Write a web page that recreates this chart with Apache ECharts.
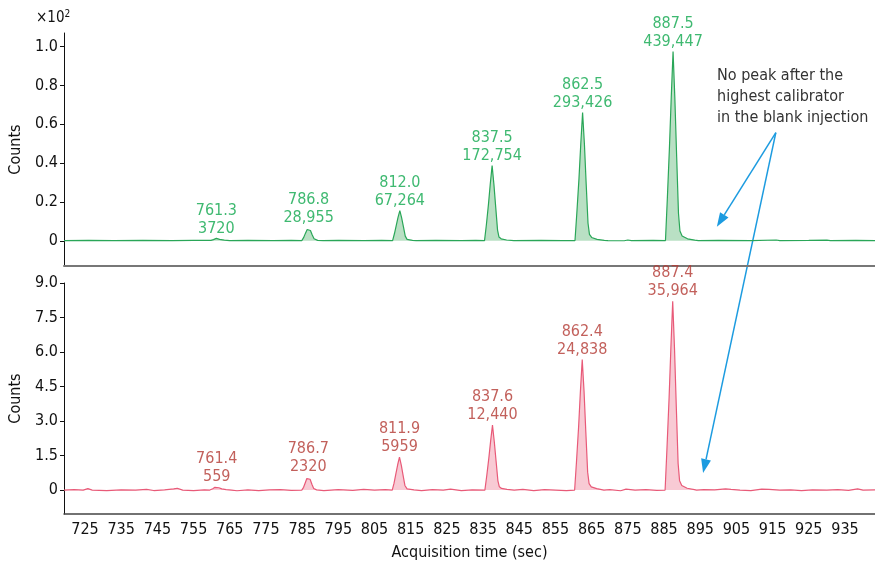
<!DOCTYPE html>
<html>
<head>
<meta charset="utf-8">
<script src="https://cdn.jsdelivr.net/npm/echarts@6/dist/echarts.min.js"></script>
<style>
html, body { margin: 0; padding: 0; background: #fff; }
#main { width: 875px; height: 565px; }
</style>
</head>
<body>
<div id="main"></div>
<script>
var FONT = "'DejaVu Sans Condensed', 'DejaVu Sans', sans-serif";

// tick labels
var timeTicks = [725, 735, 745, 755, 765, 775, 785, 795, 805, 815, 825, 835, 845, 855, 865, 875, 885, 895, 905, 915, 925, 935];
var topTicks = [0, 0.2, 0.4, 0.6, 0.8, 1.0];
var bottomTicks = [0, 1.5, 3.0, 4.5, 6.0, 7.5, 9.0];

// peak annotations (retention time, apex height, area)
var topPeakTimes = [761.3, 786.8, 812.0, 837.5, 862.5, 887.5];
var topPeakHeights = [0.012, 0.066, 0.155, 0.387, 0.66, 0.975];
var topPeakAreas = ['3720', '28,955', '67,264', '172,754', '293,426', '439,447'];

var bottomPeakTimes = [761.4, 786.7, 811.9, 837.6, 862.4, 887.4];
var bottomPeakHeights = [0.14, 0.57, 1.43, 2.82, 5.67, 8.21];
var bottomPeakAreas = ['559', '2320', '5959', '12,440', '24,838', '35,964'];

// chromatogram traces [time, counts]
var topTrace = [
  [719.2, 0.001], [726, 0.002], [733, 0.001], [741, 0.002], [749, 0.001], [755, 0.002],
  [759.8, 0.002], [760.5, 0.006], [761.3, 0.012], [762.2, 0.007], [763.5, 0.003], [765, 0.001],
  [770, 0.002], [777, 0.001], [782, 0.002],
  [784.9, 0.001], [785.4, 0.016], [785.9, 0.038], [786.4, 0.058], [786.8, 0.066], [787.3, 0.053], [787.8, 0.03], [788.3, 0.01], [789.3, 0.002], [790.8, 0.001],
  [795, 0.002], [802, 0.001], [807, 0.002],
  [810.0, 0.001], [810.5, 0.036], [811.0, 0.078], [811.5, 0.12], [812.0, 0.155], [812.5, 0.118], [813.0, 0.072], [813.5, 0.024], [814.0, 0.007], [815.5, 0.002], [816.5, 0.001],
  [822, 0.002], [829, 0.001], [833, 0.002],
  [835.4, 0.001], [835.9, 0.08], [836.5, 0.19], [837.0, 0.295], [837.5, 0.387], [838.0, 0.29], [838.5, 0.172], [839.0, 0.055], [839.4, 0.019], [840.0, 0.01], [841.5, 0.004], [843.5, 0.001],
  [851, 0.002], [857, 0.001],
  [860.4, 0.001], [860.9, 0.14], [861.5, 0.32], [862.0, 0.5], [862.5, 0.66], [863.0, 0.5], [863.5, 0.29], [864.0, 0.09], [864.4, 0.033], [865.0, 0.017], [866.5, 0.007], [868.5, 0.002], [869.5, 0.001],
  [874, 0.0], [875, 0.004], [876, 0.001], [882, 0.002],
  [885.4, 0.001], [885.9, 0.21], [886.5, 0.48], [887.0, 0.74], [887.5, 0.975], [888.0, 0.73], [888.5, 0.43], [889.0, 0.14], [889.4, 0.05], [890.0, 0.025], [891.5, 0.01], [893.5, 0.003], [894.5, 0.001],
  [900, 0.002], [909, 0.001], [916, 0.004], [917, 0.001], [925, 0.002], [930, 0.003], [931, 0.001], [938, 0.002], [943.3, 0.001]
];

var bottomTrace = [
  [719.2, 0.0], [722, 0.02], [724.5, 0.0], [725.8, 0.06], [727, 0.0], [731, -0.02], [735, 0.01], [739, 0.0], [742, 0.03], [744, -0.02], [747, 0.01], [749.5, 0.05], [750.5, 0.08], [752, 0.0], [755, -0.02], [758, 0.01],
  [759.5, 0.0], [760.3, 0.06], [760.9, 0.12], [761.4, 0.14], [762.0, 0.1], [762.8, 0.05], [764, 0.02], [765.5, 0.0],
  [767, -0.03], [770, 0.01], [773, -0.02], [776, 0.01], [779, 0.02], [782, -0.01],
  [784.9, 0.0], [785.4, 0.12], [785.9, 0.33], [786.3, 0.5], [786.7, 0.57], [787.2, 0.47], [787.7, 0.25], [788.2, 0.07], [789, 0.01],
  [791, -0.02], [795, 0.02], [799, -0.01], [802, 0.03], [805, 0.0], [808, 0.02],
  [809.9, 0.0], [810.4, 0.3], [810.9, 0.7], [811.4, 1.1], [811.9, 1.43], [812.4, 1.08], [812.9, 0.64], [813.4, 0.2], [814.0, 0.05], [815.9, 0.01],
  [818, -0.02], [821, 0.02], [824, 0.0], [826, 0.04], [829, -0.02], [832, 0.01],
  [835.5, 0.0], [836.0, 0.6], [836.6, 1.4], [837.1, 2.15], [837.6, 2.82], [838.1, 2.1], [838.6, 1.25], [839.1, 0.4], [839.5, 0.14], [840.1, 0.07], [841.6, 0.03], [843.6, 0.0],
  [846, 0.03], [849, -0.02], [852, 0.02], [855, 0.0], [858, -0.02],
  [860.3, 0.0], [860.8, 1.2], [861.4, 2.75], [861.9, 4.3], [862.4, 5.67], [862.9, 4.3], [863.4, 2.5], [863.9, 0.78], [864.3, 0.28], [864.9, 0.14], [866.4, 0.06], [868.4, 0.0],
  [870, 0.02], [873, -0.03], [874.5, 0.04], [877, 0.0], [880, 0.02], [883, -0.01],
  [885.3, 0.0], [885.8, 1.75], [886.4, 4.0], [886.9, 6.2], [887.4, 8.21], [887.9, 6.15], [888.4, 3.6], [888.9, 1.15], [889.3, 0.41], [889.9, 0.2], [891.4, 0.08], [893.4, 0.02], [894, 0.0],
  [896, 0.02], [899, 0.01], [902, 0.05], [903.5, 0.03], [906, 0.0], [909, -0.02], [912, 0.04], [914, 0.03], [917, 0.0], [920, 0.01], [923, -0.02], [926, 0.01], [930, 0.0], [933, 0.02], [936, -0.01], [938.5, 0.05], [940, 0.0], [943.3, 0.01]
];

// callout arrows: from the note to the blank region of each trace [time, counts]
var arrowStart = [915.9, 0.557];
var arrowTopEnd = [899.6, 0.072];
var arrowBottomEnd = [895.8, 0.74];
var noteLines = ['No peak after the', 'highest calibrator', 'in the blank injection'];

function zip(a, b) {
  return a.map(function (v, i) { return [v, b[i]]; });
}

function yFmt(v) {
  return v === 0 ? '0' : v.toFixed(1);
}

var myChart = echarts.init(document.getElementById('main'));

var xBase = {
  type: 'value',
  min: 719.2,
  max: 943.3,
  splitLine: { show: false },
  axisTick: { show: false }
};

var yBase = {
  type: 'value',
  splitLine: { show: false },
  axisLine: { show: true, lineStyle: { color: '#111', width: 1 } },
  axisTick: { show: true, length: 4, lineStyle: { color: '#111' } },
  axisLabel: { color: '#111', fontFamily: FONT, fontSize: 16, margin: 6, formatter: yFmt },
  name: 'Counts',
  nameLocation: 'middle',
  nameGap: 38,
  nameTextStyle: { color: '#111', fontFamily: FONT, fontSize: 16 }
};

function peakLabel(color, areas) {
  return {
    show: true,
    position: 'top',
    distance: 1,
    color: color,
    fontFamily: FONT,
    fontSize: 16,
    lineHeight: 18,
    formatter: function (p) {
      return p.value[0].toFixed(1) + '\n' + areas[p.dataIndex];
    }
  };
}

var option = {
  animation: false,
  backgroundColor: '#fff',
  grid: [
    { left: 64, right: 0, top: 33, height: 233 },
    { left: 64, right: 0, top: 283, height: 231 }
  ],
  xAxis: [
    Object.assign({}, xBase, {
      gridIndex: 0,
      axisLine: { show: true, onZero: false, lineStyle: { color: '#777', width: 2 } },
      axisLabel: { show: false }
    }),
    Object.assign({}, xBase, {
      gridIndex: 1,
      axisLine: { show: true, onZero: false, lineStyle: { color: '#444', width: 1.5 } },
      axisLabel: { color: '#111', fontFamily: FONT, fontSize: 16, margin: 8, customValues: timeTicks },
      name: 'Acquisition time (sec)',
      nameLocation: 'middle',
      nameGap: 31,
      nameTextStyle: { color: '#111', fontFamily: FONT, fontSize: 16 }
    })
  ],
  yAxis: [
    Object.assign({}, yBase, {
      gridIndex: 0, min: -0.13, max: 1.07,
      axisTick: Object.assign({}, yBase.axisTick, { customValues: topTicks }),
      axisLabel: Object.assign({}, yBase.axisLabel, { customValues: topTicks })
    }),
    Object.assign({}, yBase, {
      gridIndex: 1, min: -1.04, max: 9.0,
      axisTick: Object.assign({}, yBase.axisTick, { customValues: bottomTicks }),
      axisLabel: Object.assign({}, yBase.axisLabel, { customValues: bottomTicks })
    })
  ],
  series: [
    {
      type: 'line', xAxisIndex: 0, yAxisIndex: 0,
      data: topTrace, showSymbol: false, symbol: 'none',
      lineStyle: { color: '#2aa658', width: 1.2 },
      areaStyle: { color: '#9bd3ab' }
    },
    {
      type: 'line', xAxisIndex: 1, yAxisIndex: 1,
      data: bottomTrace, showSymbol: false, symbol: 'none',
      lineStyle: { color: '#e85a78', width: 1.2 },
      areaStyle: { color: '#f5b3c2' }
    },
    {
      type: 'scatter', xAxisIndex: 0, yAxisIndex: 0,
      data: zip(topPeakTimes, topPeakHeights), symbolSize: 0,
      label: peakLabel('#0fa84d', topPeakAreas)
    },
    {
      type: 'scatter', xAxisIndex: 1, yAxisIndex: 1,
      data: zip(bottomPeakTimes, bottomPeakHeights), symbolSize: 0,
      label: peakLabel('#b33832', bottomPeakAreas)
    }
  ],
  graphic: [
    {
      type: 'text', left: 36, top: 9,
      style: {
        text: '×10{sup|2}',
        fill: '#111', font: '15px ' + FONT,
        rich: { sup: { fontSize: 10, verticalAlign: 'top', padding: [0, 0, 8, 0], fontFamily: FONT } }
      }
    },
    {
      type: 'text', left: 717, top: 65,
      style: {
        text: noteLines.join('\n'),
        fill: '#333', font: '16px ' + FONT, lineHeight: 21
      }
    }
  ]
};

myChart.setOption(option);

// arrows positioned in data space
function arrow(from, to, gFrom, gTo) {
  var a = myChart.convertToPixel({ gridIndex: gFrom }, from);
  var b = myChart.convertToPixel({ gridIndex: gTo }, to);
  var ang = Math.atan2(b[1] - a[1], b[0] - a[0]);
  var len = 14, half = 5;
  var bx = b[0] - len * Math.cos(ang), by = b[1] - len * Math.sin(ang);
  var px = -Math.sin(ang) * half, py = Math.cos(ang) * half;
  return [
    {
      type: 'line', silent: true,
      shape: { x1: a[0], y1: a[1], x2: bx, y2: by },
      style: { stroke: '#1c9be0', lineWidth: 1.5 }
    },
    {
      type: 'polygon', silent: true,
      shape: { points: [[b[0], b[1]], [bx + px, by + py], [bx - px, by - py]] },
      style: { fill: '#1c9be0' }
    }
  ];
}

var arrows = arrow(arrowStart, arrowTopEnd, 0, 0).concat(arrow(arrowStart, arrowBottomEnd, 0, 1));
myChart.setOption({ graphic: option.graphic.concat(arrows) });
</script>
</body>
</html>
